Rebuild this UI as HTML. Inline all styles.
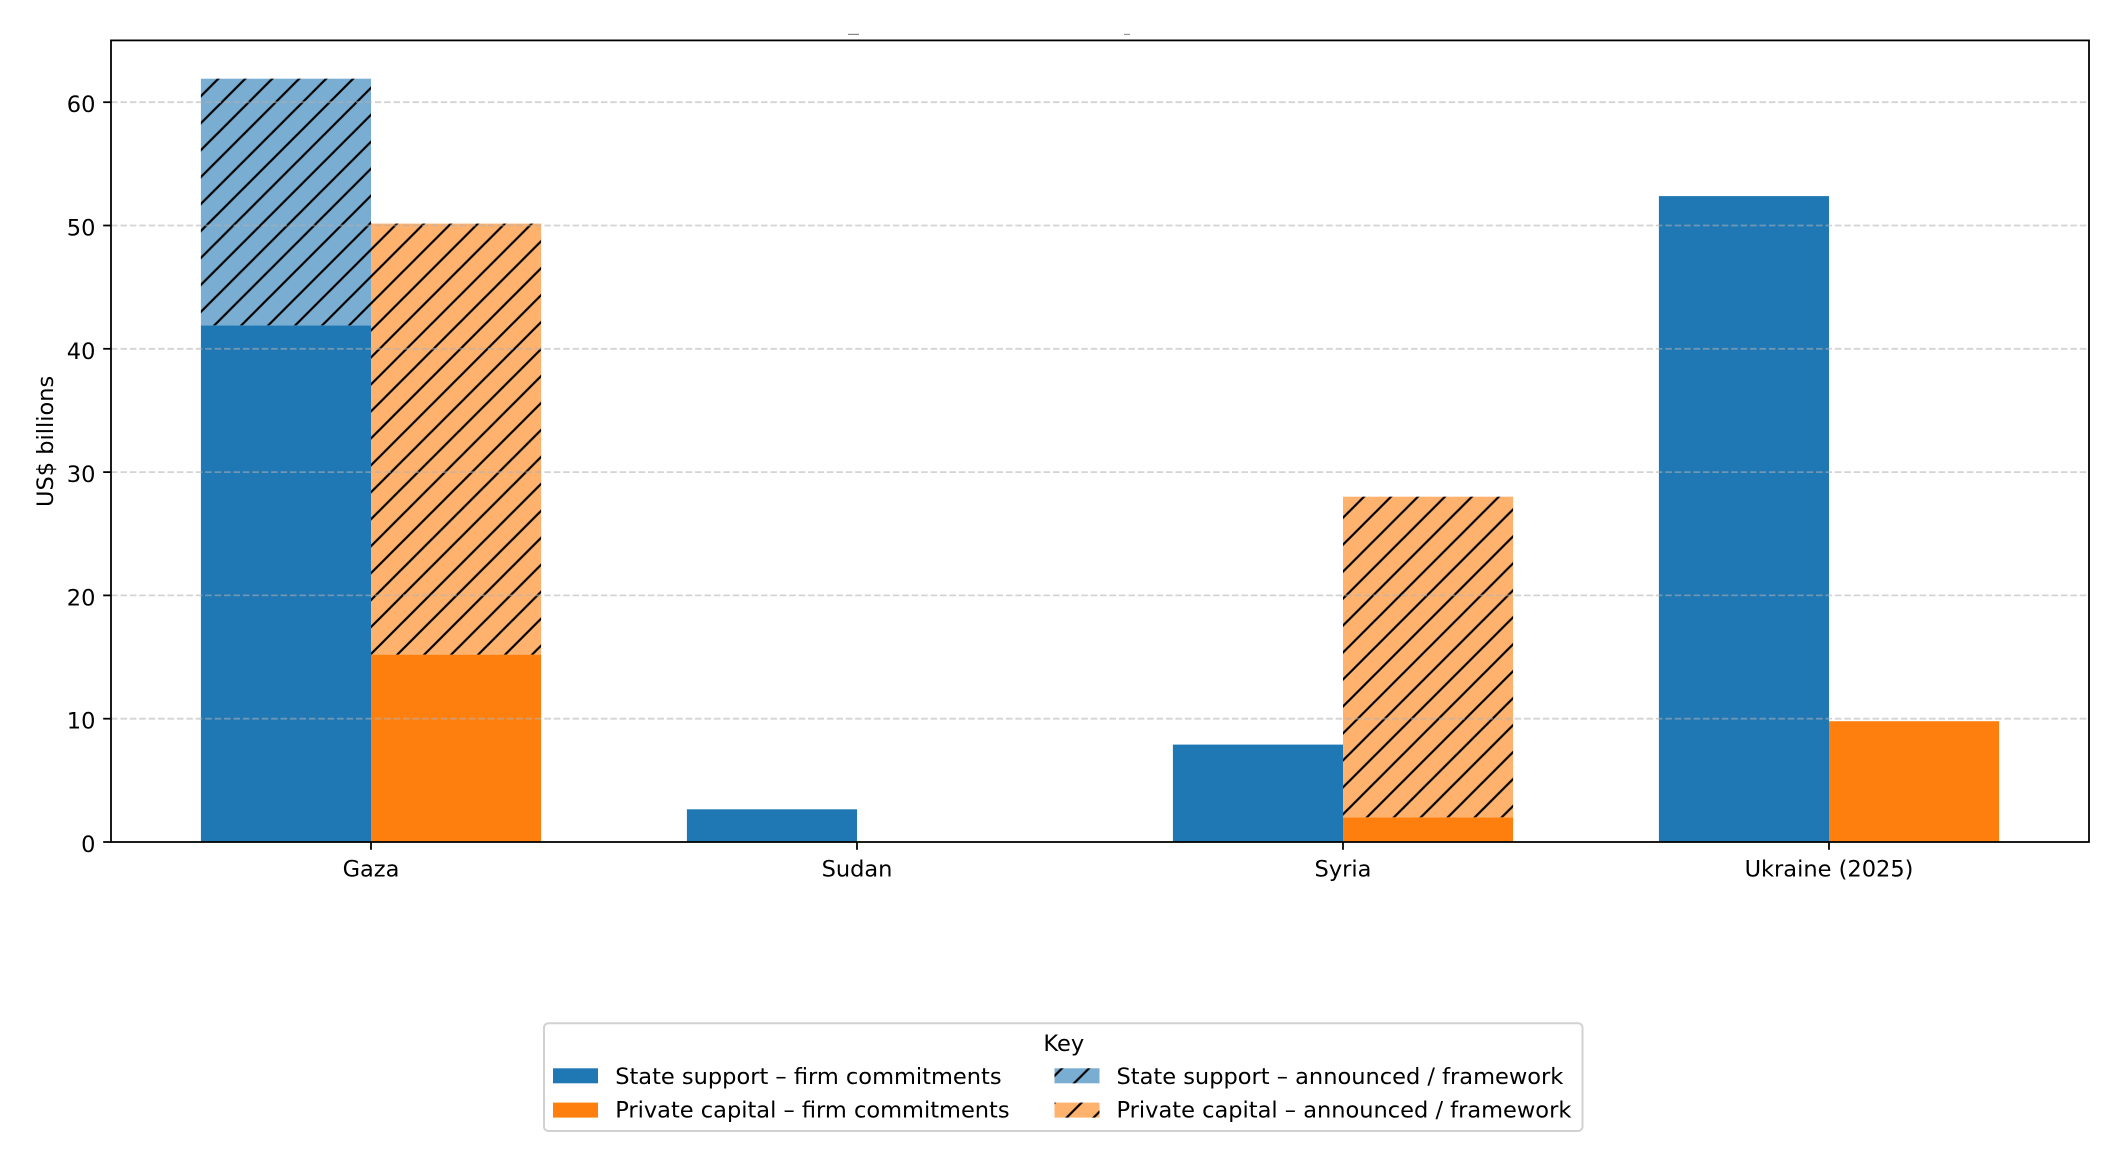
<!DOCTYPE html>
<html>
<head>
<meta charset="utf-8">
<style>
html,body{margin:0;padding:0;background:#ffffff;}
svg{display:block;}
text{font-family:"DejaVu Sans","Liberation Sans",sans-serif;font-size:22.5px;fill:#000;}
</style>
</head>
<body>
<svg width="2123" height="1162" viewBox="0 0 2123 1162" xmlns="http://www.w3.org/2000/svg">
<defs>
<pattern id="h" patternUnits="userSpaceOnUse" width="26.96" height="26.96" patternTransform="translate(0.5 0)">
<path d="M-1.5,28.46 L28.46,-1.5 M-1.5,1.5 L1.5,-1.5 M25.46,28.46 L28.46,25.46" stroke="#000" stroke-width="2.2" fill="none"/>
</pattern>
</defs>
<rect x="0" y="0" width="2123" height="1162" fill="#ffffff"/>

<!-- clipped title remnants -->
<rect x="848" y="33.8" width="11" height="1.2" fill="#888"/>
<rect x="1124" y="33.8" width="6" height="1.2" fill="#999"/>

<!-- Bars -->
<!-- Gaza -->
<rect x="200.9" y="325.3" width="170.1" height="516.7" fill="#1f77b4"/>
<rect x="200.9" y="78.7" width="170.1" height="246.6" fill="#79add2"/>
<rect x="200.9" y="78.7" width="170.1" height="246.6" fill="url(#h)"/>
<rect x="371" y="654.6" width="170.1" height="187.4" fill="#ff7f0e"/>
<rect x="371" y="223.6" width="170.1" height="431" fill="#ffb26e"/>
<rect x="371" y="223.6" width="170.1" height="431" fill="url(#h)"/>
<!-- Sudan -->
<rect x="686.9" y="809.3" width="170.1" height="32.7" fill="#1f77b4"/>
<!-- Syria -->
<rect x="1172.9" y="744.6" width="170.1" height="97.4" fill="#1f77b4"/>
<rect x="1343" y="817.3" width="170.1" height="24.7" fill="#ff7f0e"/>
<rect x="1343" y="496.7" width="170.1" height="320.6" fill="#ffb26e"/>
<rect x="1343" y="496.7" width="170.1" height="320.6" fill="url(#h)"/>
<!-- Ukraine -->
<rect x="1658.9" y="196.1" width="170.1" height="645.9" fill="#1f77b4"/>
<rect x="1829" y="721.2" width="170.1" height="120.8" fill="#ff7f0e"/>

<!-- Grid -->
<g stroke="#b0b0b0" stroke-opacity="0.55" stroke-width="1.78" stroke-dasharray="6.58 2.84" fill="none">
<line x1="111" y1="718.7" x2="2089" y2="718.7"/>
<line x1="111" y1="595.4" x2="2089" y2="595.4"/>
<line x1="111" y1="472.1" x2="2089" y2="472.1"/>
<line x1="111" y1="348.8" x2="2089" y2="348.8"/>
<line x1="111" y1="225.5" x2="2089" y2="225.5"/>
<line x1="111" y1="102.2" x2="2089" y2="102.2"/>
</g>

<!-- Spines -->
<rect x="111" y="40.4" width="1978" height="801.6" fill="none" stroke="#000" stroke-width="1.78"/>

<!-- Y ticks -->
<g stroke="#000" stroke-width="1.78">
<line x1="103.2" y1="842" x2="111" y2="842"/>
<line x1="103.2" y1="718.7" x2="111" y2="718.7"/>
<line x1="103.2" y1="595.4" x2="111" y2="595.4"/>
<line x1="103.2" y1="472.1" x2="111" y2="472.1"/>
<line x1="103.2" y1="348.8" x2="111" y2="348.8"/>
<line x1="103.2" y1="225.5" x2="111" y2="225.5"/>
<line x1="103.2" y1="102.2" x2="111" y2="102.2"/>
<!-- X ticks -->
<line x1="371" y1="842" x2="371" y2="849.8"/>
<line x1="857" y1="842" x2="857" y2="849.8"/>
<line x1="1343" y1="842" x2="1343" y2="849.8"/>
<line x1="1829" y1="842" x2="1829" y2="849.8"/>
</g>

<!-- Y tick labels -->
<g text-anchor="end">
<text x="95.4" y="852">0</text>
<text x="95.4" y="728.7">10</text>
<text x="95.4" y="605.4">20</text>
<text x="95.4" y="482.1">30</text>
<text x="95.4" y="358.8">40</text>
<text x="95.4" y="235.5">50</text>
<text x="95.4" y="112.2">60</text>
</g>

<!-- X tick labels -->
<g text-anchor="middle">
<text x="371" y="876.7">Gaza</text>
<text x="857" y="876.7">Sudan</text>
<text x="1343" y="876.7">Syria</text>
<text x="1829" y="876.7">Ukraine (2025)</text>
</g>

<!-- Y axis label -->
<text transform="translate(53 441.4) rotate(-90)" text-anchor="middle">US$ billions</text>

<!-- Legend -->
<rect x="544" y="1023.3" width="1038.5" height="107.7" rx="4.4" ry="4.4" fill="#ffffff" fill-opacity="0.8" stroke="#d2d2d2" stroke-width="2"/>
<text x="1063.8" y="1051" text-anchor="middle">Key</text>
<rect x="553" y="1068.3" width="45" height="15" fill="#1f77b4"/>
<text x="615.2" y="1084">State support – firm commitments</text>
<rect x="553" y="1102.6" width="45" height="15" fill="#ff7f0e"/>
<text x="615.2" y="1117.5">Private capital – firm commitments</text>
<rect x="1054.5" y="1068.3" width="45" height="15" fill="#79add2"/>
<rect x="1054.5" y="1068.3" width="45" height="15" fill="url(#h)"/>
<text x="1116.5" y="1084">State support – announced / framework</text>
<rect x="1054.5" y="1102.6" width="45" height="15" fill="#ffb26e"/>
<rect x="1054.5" y="1102.6" width="45" height="15" fill="url(#h)"/>
<text x="1116.5" y="1117.5">Private capital – announced / framework</text>
</svg>
</body>
</html>
